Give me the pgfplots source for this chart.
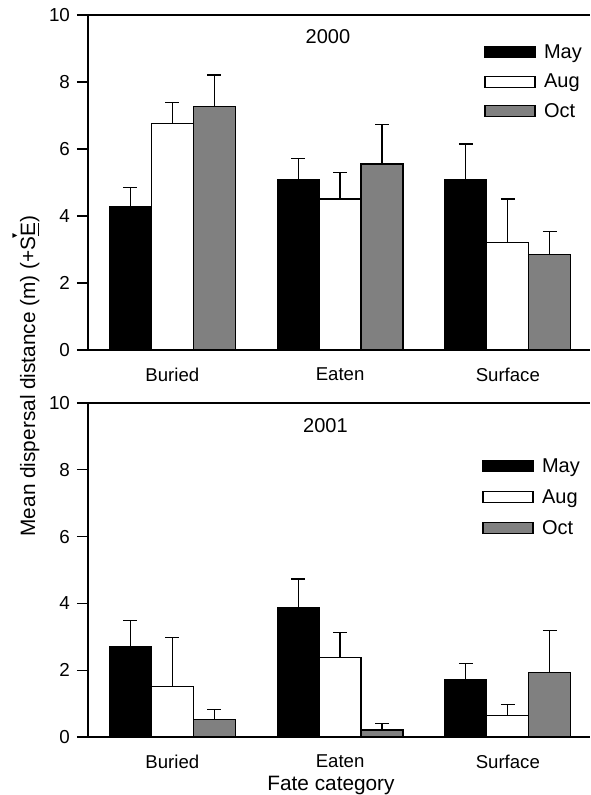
\documentclass[border=0pt]{standalone}
\usepackage{pgfplots}
\pgfplotsset{compat=1.18}
\usepackage{pgfplotstable}
\usepackage{fontspec}
\setmainfont{Liberation Sans}
\newfontfamily\dejavu{DejaVu Sans}

\pgfplotstableread{
x y e
0 4.28 0.57
1 5.10 0.61
2 5.10 1.05
}\topMay
\pgfplotstableread{
x y e
0 6.77 0.61
1 4.51 0.80
2 3.21 1.30
}\topAug
\pgfplotstableread{
x y e
0 7.26 0.95
1 5.55 1.19
2 2.86 0.67
}\topOct
\pgfplotstableread{
x y e
0 2.71 0.78
1 3.86 0.87
2 1.72 0.47
}\botMay
\pgfplotstableread{
x y e
0 1.52 1.47
1 2.38 0.76
2 0.64 0.34
}\botAug
\pgfplotstableread{
x y e
0 0.52 0.30
1 0.21 0.20
2 1.92 1.27
}\botOct

\definecolor{octgray}{RGB}{128,128,128}

\pgfplotsset{
  panel/.style={
    scale only axis,
    width=251pt,
    height=167.5pt,
    anchor=south west,
    xmin=-0.503, xmax=2.49,
    ymin=0, ymax=10,
    axis y line*=left,
    axis x line*=box,
    axis line style={line width=0.6pt},
    ybar=0pt,
    bar width=0.25,
    xtick={0,1,2},
    xticklabels={Buried,Eaten,Surface},
    x tick style={draw=none},
    ytick={0,2,4,6,8,10},
    tick align=outside,
    major tick length=5.5pt,
    y tick style={line width=0.6pt,black},
    /pgf/number format/assume math mode=true,
    yticklabel style={font=\fontsize{9.4}{11}\selectfont},
    xticklabel style={font=\fontsize{9.3}{11}\selectfont},
    legend cell align=left,
    legend style={draw=none, fill=none, font=\fontsize{10}{12}\selectfont,
      at={(rel axis cs:0.789,0.925)}, anchor=north west,
      row sep=2.1pt, column sep=0pt, inner sep=0pt},
    legend image code/.code={%
      \path[draw=none,fill=none] (0pt,-6.3pt) rectangle (27.5pt,6.3pt);
      \draw[#1,line width=0.6pt] (0pt,-2.3pt) rectangle (25pt,3.2pt);},
  },
  errstyle/.style={
    error bars/y dir=plus, error bars/y explicit,
    error bars/error bar style={line width=0.6pt,black},
    error bars/error mark options={rotate=90, mark size=3.5pt, line width=0.6pt, black},
  },
  maybar/.style={draw=black, line width=0.6pt, fill=black, errstyle},
  augbar/.style={draw=black, line width=0.6pt, fill=white, errstyle},
  octbar/.style={draw=black, line width=0.6pt, fill=octgray, errstyle},
}

\begin{document}
\begin{tikzpicture}
\path[use as bounding box] (0,0) rectangle (295pt,397.5pt);

\begin{axis}[panel, at={(44pt,222.5pt)}]
\addplot[maybar] table[x=x,y=y,y error=e]{\topMay};
\addplot[augbar] table[x=x,y=y,y error=e]{\topAug};
\addplot[octbar] table[x=x,y=y,y error=e]{\topOct};
\legend{May,Aug,Oct}
\node[font=\fontsize{10}{12}\selectfont] at (rel axis cs:0.478,0.934) {2000};
\end{axis}

\begin{axis}[panel, at={(44pt,29pt)}, height=167pt,
  legend style={at={(rel axis cs:0.785,0.847)}, row sep=2.9pt}]
\addplot[maybar] table[x=x,y=y,y error=e]{\botMay};
\addplot[augbar] table[x=x,y=y,y error=e]{\botAug};
\addplot[octbar] table[x=x,y=y,y error=e]{\botOct};
\legend{May,Aug,Oct}
\node[font=\fontsize{10}{12}\selectfont] at (rel axis cs:0.473,0.932) {2001};
\end{axis}

\node[rotate=90, font=\fontsize{10.4}{12}\selectfont] at (13pt,209.5pt)
  {Mean dispersal distance (m) (+S\makebox[0pt]{\raisebox{0.85em}{\dejavu\fontsize{5}{5}\selectfont ▾}}\underline{E})};
\node[font=\fontsize{10.4}{12}\selectfont] at (165.5pt,4.8pt) {Fate category};
\end{tikzpicture}
\end{document}
